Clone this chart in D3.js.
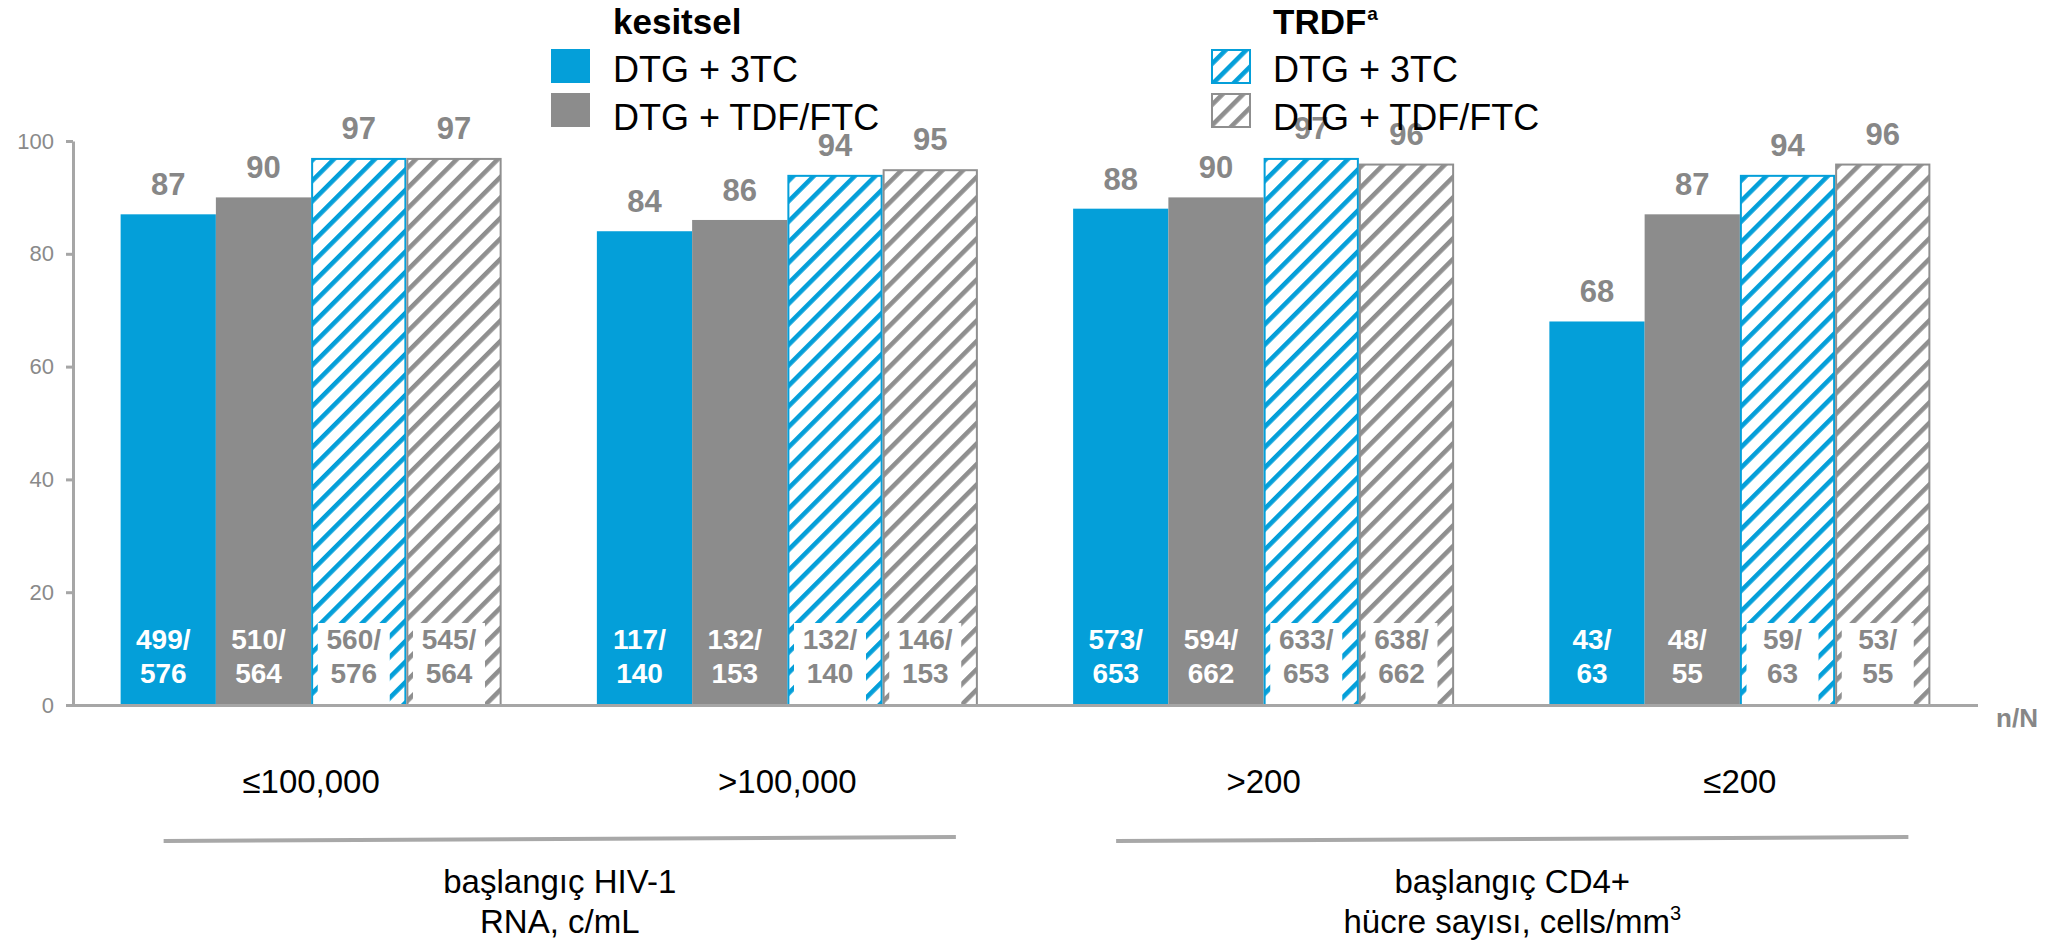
<!DOCTYPE html>
<html>
<head>
<meta charset="utf-8">
<script src="https://cdn.jsdelivr.net/npm/d3@7"></script>
<style>
  html, body { margin: 0; padding: 0; background: #fff; }
  svg { display: block; font-family: "Liberation Sans", Arial, sans-serif; }
</style>
</head>
<body>
<svg id="chart" width="2053" height="942"></svg>
<script>
// Categories (baseline subgroups) and their grouping
const categories = ["≤100,000", ">100,000", ">200", "≤200"];
const groupTitles = [
  { from: 0, to: 1, lines: ["başlangıç HIV-1", "RNA, c/mL"] },
  { from: 2, to: 3, lines: ["başlangıç CD4+", "hücre sayısı, cells/mm"] }
];

// Series: analysis population × regimen
const seriesKeys = ["kes3TC", "kesTDF", "trdf3TC", "trdfTDF"];
const legendGroups = ["kesitsel", "TRDF"];
const regimens = ["DTG + 3TC", "DTG + TDF/FTC"];

// Response rates (%) per category, one array per series
const kesitsel3TC = [87, 84, 88, 68];
const kesitselTDF = [90, 86, 90, 87];
const trdf3TC     = [97, 94, 97, 94];
const trdfTDF     = [97, 95, 96, 96];

// n/N counts per category, one array per series
const kesitsel3TCnN = ["499/576", "117/140", "573/653", "43/63"];
const kesitselTDFnN = ["510/564", "132/153", "594/662", "48/55"];
const trdf3TCnN     = ["560/576", "132/140", "633/653", "59/63"];
const trdfTDFnN     = ["545/564", "146/153", "638/662", "53/55"];

const yTicks = [0, 20, 40, 60, 80, 100];

const seriesValues = [kesitsel3TC, kesitselTDF, trdf3TC, trdfTDF];
const seriesCounts = [kesitsel3TCnN, kesitselTDFnN, trdf3TCnN, trdfTDFnN];

const BLUE = "#049fd9";
const GRAY = "#8c8c8c";
const LABEL_GRAY = "#878787";
const AXIS_GRAY = "#a6a6a6";

const seriesStyle = {
  kes3TC:  { color: BLUE, hatched: false },
  kesTDF:  { color: GRAY, hatched: false },
  trdf3TC: { color: BLUE, hatched: true },
  trdfTDF: { color: "#8f8f8f", hatched: true }
};

const rows = categories.map((c, i) => ({
  category: c,
  bars: seriesKeys.map((k, j) => ({ key: k, value: seriesValues[j][i], nN: seriesCounts[j][i] }))
}));

const svg = d3.select("#chart");

const x = d3.scaleBand().domain(categories).range([73, 1978]).paddingInner(0.2).paddingOuter(0.1);
const xs = d3.scaleBand().domain(seriesKeys).range([0, x.bandwidth()]);
const y = d3.scaleLinear().domain([0, 100]).range([705, 141]);

// Diagonal hatch patterns
const defs = svg.append("defs");
function hatch(id, color) {
  const p = defs.append("pattern")
    .attr("id", id)
    .attr("patternUnits", "userSpaceOnUse")
    .attr("width", 14.5).attr("height", 14.5)
    .attr("patternTransform", "rotate(-45)");
  p.append("rect").attr("width", 14.5).attr("height", 14.5).attr("fill", "#fff");
  p.append("rect").attr("y", 0).attr("width", 14.5).attr("height", 4.6).attr("fill", color);
}
hatch("hatch-blue", BLUE);
hatch("hatch-gray", "#8f8f8f");
const fillFor = k => {
  const s = seriesStyle[k];
  if (!s.hatched) return s.color;
  return s.color === BLUE ? "url(#hatch-blue)" : "url(#hatch-gray)";
};

// Y axis
const yAxis = d3.axisLeft(y).tickValues(yTicks).tickSize(7).tickSizeOuter(0).tickPadding(12);
const gy = svg.append("g").attr("transform", "translate(73,0)").call(yAxis);
gy.select(".domain").attr("stroke", AXIS_GRAY).attr("stroke-width", 3);
gy.selectAll(".tick line").attr("stroke", AXIS_GRAY).attr("stroke-width", 3);
gy.selectAll(".tick text").attr("fill", "#8a8a8a").style("font-size", "22px")
  .style("font-family", "'Liberation Sans', Arial, sans-serif");

// Bars
const groups = svg.append("g").selectAll("g.grp").data(rows).join("g")
  .attr("class", "grp")
  .attr("transform", d => `translate(${x(d.category)},0)`);

groups.selectAll("rect.bar").data(d => d.bars).join("rect")
  .attr("class", "bar")
  .attr("x", d => xs(d.key) + (seriesStyle[d.key].hatched ? 1 : 0))
  .attr("width", d => xs.bandwidth() - (seriesStyle[d.key].hatched ? 2 : 0))
  .attr("y", d => y(d.value) + (seriesStyle[d.key].hatched ? 1 : 0))
  .attr("height", d => y(0) - y(d.value) - (seriesStyle[d.key].hatched ? 1 : 0))
  .attr("fill", d => fillFor(d.key))
  .attr("stroke", d => seriesStyle[d.key].hatched ? seriesStyle[d.key].color : "none")
  .attr("stroke-width", 2);

// Baseline
svg.append("line")
  .attr("x1", 73).attr("x2", x.range()[1])
  .attr("y1", y(0) + 0.5).attr("y2", y(0) + 0.5)
  .attr("stroke", AXIS_GRAY).attr("stroke-width", 3);

// White boxes behind n/N on hatched bars
groups.selectAll("rect.nbox").data(d => d.bars.filter(b => seriesStyle[b.key].hatched)).join("rect")
  .attr("class", "nbox")
  .attr("x", d => xs(d.key) + xs.bandwidth() / 2 - 5 - 36)
  .attr("width", 72)
  .attr("y", y(0) - 82)
  .attr("height", 86)
  .attr("fill", "#fff");

// n/N labels
const nText = groups.selectAll("text.nn").data(d => d.bars).join("text")
  .attr("class", "nn")
  .attr("text-anchor", "middle")
  .attr("font-weight", "bold")
  .style("font-size", "28px")
  .attr("fill", d => seriesStyle[d.key].hatched ? LABEL_GRAY : "#fff");
nText.append("tspan")
  .attr("x", d => xs(d.key) + xs.bandwidth() / 2 - 5)
  .attr("y", y(0) - 56)
  .text(d => d.nN.split("/")[0] + "/");
nText.append("tspan")
  .attr("x", d => xs(d.key) + xs.bandwidth() / 2 - 5)
  .attr("y", y(0) - 22)
  .text(d => d.nN.split("/")[1]);

// Value labels
groups.selectAll("text.val").data(d => d.bars).join("text")
  .attr("class", "val")
  .attr("x", d => xs(d.key) + xs.bandwidth() / 2)
  .attr("y", d => y(d.value) - 19)
  .attr("text-anchor", "middle")
  .attr("font-weight", "bold")
  .style("font-size", "31px")
  .attr("fill", LABEL_GRAY)
  .text(d => d.value);

// n/N caption
svg.append("text")
  .attr("x", 2038).attr("y", 727)
  .attr("text-anchor", "end")
  .attr("font-weight", "bold")
  .style("font-size", "26px")
  .attr("fill", LABEL_GRAY)
  .text("n/N");

// Category labels
svg.append("g").selectAll("text").data(categories).join("text")
  .attr("x", d => x(d) + x.bandwidth() / 2)
  .attr("y", 793)
  .attr("text-anchor", "middle")
  .style("font-size", "33px")
  .attr("fill", "#000")
  .text(d => d);

// Group brackets and titles
const gt = svg.append("g").selectAll("g").data(groupTitles).join("g");
gt.append("line")
  .attr("x1", d => x(categories[d.from]) + 43)
  .attr("x2", d => x(categories[d.to]) + x.bandwidth() - 22)
  .attr("y1", 841).attr("y2", 837)
  .attr("stroke", "#a8a8a8").attr("stroke-width", 4);
const gtText = gt.append("text")
  .attr("text-anchor", "middle")
  .style("font-size", "33px")
  .attr("fill", "#000");
gtText.append("tspan")
  .attr("x", d => (x(categories[d.from]) + 43 + x(categories[d.to]) + x.bandwidth() - 22) / 2)
  .attr("y", 893)
  .text(d => d.lines[0]);
gtText.append("tspan")
  .attr("x", d => (x(categories[d.from]) + 43 + x(categories[d.to]) + x.bandwidth() - 22) / 2)
  .attr("y", 933)
  .text(d => d.lines[1]);
gtText.filter((d, i) => i === 1).append("tspan")
  .attr("dy", -13)
  .style("font-size", "20px")
  .text("3");

// Legend
const legendX = [551, 1211];
const legend = svg.append("g").selectAll("g").data(legendGroups).join("g")
  .attr("transform", (d, i) => `translate(${legendX[i]},0)`);
const title = legend.append("text")
  .attr("x", 62).attr("y", 34)
  .attr("font-weight", "bold")
  .style("font-size", "35px")
  .attr("fill", "#000")
  .text(d => d);
title.filter((d, i) => i === 1).append("tspan")
  .attr("dx", 1).attr("dy", -14)
  .style("font-size", "19px")
  .text("a");

legend.each(function (g, gi) {
  const sel = d3.select(this);
  regimens.forEach((r, ri) => {
    const key = seriesKeys[gi * 2 + ri];
    const st = seriesStyle[key];
    sel.append("rect")
      .attr("x", st.hatched ? 1 : 0)
      .attr("y", 49 + ri * 44 + (st.hatched ? 1 : 0))
      .attr("width", st.hatched ? 38 : 39)
      .attr("height", st.hatched ? 33 : 34)
      .attr("fill", fillFor(key))
      .attr("stroke", st.hatched ? st.color : "none")
      .attr("stroke-width", 2);
    sel.append("text")
      .attr("x", 62).attr("y", 82 + ri * 48)
      .style("font-size", "36px")
      .attr("fill", "#000")
      .text(r);
  });
});
</script>
</body>
</html>
